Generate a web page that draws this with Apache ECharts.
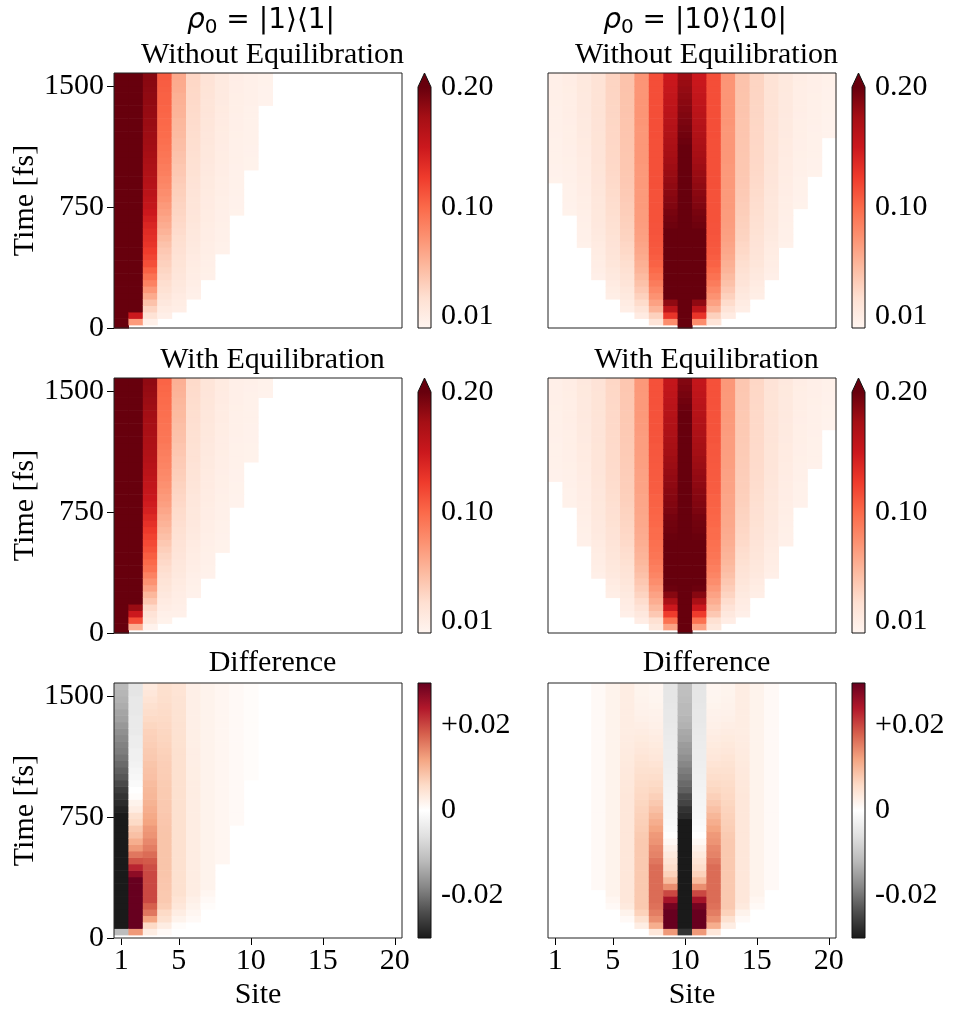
<!DOCTYPE html>
<html><head><meta charset="utf-8">
<script src="https://cdn.jsdelivr.net/npm/echarts@6/dist/echarts.min.js"></script>
<style>html,body{margin:0;padding:0;background:#fff}#c{width:956px;height:1019px}</style>
</head><body><div id="c"></div>
<script>
// ---------- axes / ticks ----------
const sites = [1,2,3,4,5,6,7,8,9,10,11,12,13,14,15,16,17,18,19,20];
const times = [0,40,80,120,160,200,240,280,320,360,400,440,480,520,560,600,640,680,720,760,
  800,840,880,920,960,1000,1040,1080,1120,1160,1200,1240,1280,1320,1360,1400,1440,1480,1520,1560];
const siteTicks = [1,5,10,15,20];
const timeTicks = [0,750,1500];
const popTicks = [0.01,0.10,0.20];
const diffTicks = [-0.02,0,0.02];

// ---------- rho0 = |1><1| : population without equilibration (values from first visible row) ----------
const front1Without = [0,1,1,2,3,5,8,12,18,25,35,40,40,40,40,40,40,40,40,40];
const front1With    = [0,1,1,2,3,6,9,13,20,27,37,40,40,40,40,40,40,40,40,40];
const w1s1 = [1.00,0.96,0.90,0.85,0.80,0.77,0.74,0.72,0.70,0.69,0.68,0.67,0.66,0.66,0.65,0.65,0.64,0.64,0.63,0.63,0.63,0.62,0.62,0.62,0.61,0.61,0.61,0.61,0.60,0.60,0.60,0.60,0.60,0.59,0.59,0.59,0.59,0.59,0.58,0.58];
const w1s2 = [0.07,0.15,0.22,0.25,0.27,0.28,0.29,0.29,0.29,0.29,0.28,0.28,0.28,0.27,0.27,0.27,0.26,0.26,0.26,0.26,0.25,0.25,0.25,0.25,0.25,0.24,0.24,0.24,0.24,0.24,0.24,0.23,0.23,0.23,0.23,0.23,0.23,0.23,0.23];
const w1s3 = [0.006,0.022,0.033,0.045,0.06,0.072,0.085,0.095,0.105,0.115,0.12,0.125,0.13,0.133,0.136,0.14,0.145,0.15,0.155,0.158,0.161,0.164,0.166,0.168,0.17,0.172,0.174,0.176,0.177,0.178,0.179,0.18,0.181,0.182,0.183,0.184,0.185,0.186,0.187];
const w1s4 = [0.007,0.011,0.015,0.019,0.023,0.026,0.029,0.032,0.035,0.038,0.041,0.045,0.05,0.055,0.059,0.063,0.067,0.071,0.075,0.078,0.081,0.084,0.087,0.089,0.091,0.093,0.095,0.097,0.099,0.1,0.101,0.102,0.103,0.104,0.105,0.106,0.107,0.108];
const w1s5 = [0.008,0.01,0.012,0.014,0.016,0.0175,0.019,0.0205,0.022,0.0235,0.025,0.026,0.0275,0.029,0.0305,0.032,0.033,0.0345,0.036,0.0375,0.039,0.041,0.042,0.044,0.045,0.047,0.048,0.05,0.051,0.052,0.054,0.055,0.056,0.057,0.059,0.06,0.061];
const w1s6 = [0.006,0.007,0.008,0.009,0.01,0.011,0.012,0.013,0.014,0.015,0.016,0.017,0.018,0.0185,0.019,0.0195,0.02,0.021,0.022,0.023,0.0235,0.024,0.025,0.0255,0.026,0.0265,0.027,0.0275,0.028,0.0285,0.029,0.0295,0.03,0.0305,0.031];
const w1s7 = [0.006,0.0065,0.007,0.0075,0.008,0.0085,0.009,0.0095,0.01,0.0105,0.011,0.0115,0.012,0.0125,0.013,0.0135,0.014,0.0145,0.015,0.0155,0.016,0.0165,0.017,0.0175,0.018,0.0185,0.019,0.0195,0.02,0.0205,0.021,0.0215];
const w1s8 = [0.005,0.0053,0.0056,0.006,0.0063,0.0066,0.007,0.0073,0.0076,0.008,0.0083,0.0086,0.009,0.0093,0.0096,0.01,0.0103,0.0106,0.011,0.0113,0.0116,0.012,0.0123,0.0126,0.013,0.0133,0.0136,0.014];
const w1s9 = [0.004,0.0042,0.0044,0.0046,0.0048,0.005,0.0052,0.0054,0.0056,0.0058,0.006,0.0062,0.0064,0.0066,0.0068,0.007,0.0072,0.0074,0.0076,0.0078,0.0079,0.008];
const w1s10 = [0.004,0.0041,0.0043,0.0044,0.0046,0.0047,0.0049,0.005,0.0052,0.0053,0.0055,0.0056,0.0058,0.0059,0.006];
const w1s11 = [0.003,0.0033,0.0035,0.0038,0.004];
const pop1Without = [w1s1,w1s2,w1s3,w1s4,w1s5,w1s6,w1s7,w1s8,w1s9,w1s10,w1s11,[],[],[],[],[],[],[],[],[]];

// difference (without - with), values from diff1Start row
const diff1Start = [0,0,0,0,0,0,5,12,18,25,40,40,40,40,40,40,40,40,40,40];
const d1s1 = [0,-0.0115,-0.04,-0.04,-0.04,-0.04,-0.04,-0.04,-0.04,-0.04,-0.04,-0.04,-0.04,-0.04,-0.04,-0.04,-0.04,-0.04,-0.035,-0.031,-0.029,-0.028,-0.027,-0.026,-0.0245,-0.023,-0.022,-0.021,-0.02,-0.019,-0.0185,-0.0178,-0.017,-0.016,-0.015,-0.0145,-0.0135,-0.013,-0.0125,-0.012];
const d1s2 = [0,0.013,0.035,0.07,0.07,0.06,0.05,0.045,0.04,0.032,0.027,0.023,0.019,0.016,0.013,0.011,0.009,0.008,0.006,0.005,0.003,0.002,0.0005,0,-0.001,-0.0015,-0.002,-0.0025,-0.003,-0.003,-0.0035,-0.0035,-0.004,-0.004,-0.004,-0.0045,-0.0045,-0.0045,-0.005,-0.005];
const d1s3 = [0,0.003,0.006,0.012,0.016,0.018,0.02,0.02,0.02,0.02,0.02,0.0195,0.0185,0.017,0.0155,0.0145,0.0135,0.013,0.012,0.0115,0.011,0.0105,0.01,0.0098,0.0095,0.009,0.0088,0.0085,0.008,0.0078,0.0075,0.0072,0.007,0.0065,0.006,0.0055,0.005,0.0045,0.004,0.0035];
const d1s4 = [0,0.001,0.003,0.005,0.006,0.0075,0.008,0.008,0.0082,0.0083,0.0084,0.0085,0.0085,0.0085,0.0085,0.0085,0.0085,0.0084,0.0083,0.0082,0.008,0.008,0.0078,0.0078,0.0077,0.0076,0.0075,0.0074,0.0072,0.007,0.0068,0.0066,0.0064,0.0062,0.006,0.0058,0.0056,0.0054,0.0052,0.005];
const d1s5 = [0,0,0.0005,0.002,0.003,0.004,0.0045,0.005,0.005,0.005,0.005,0.005,0.005,0.005,0.005,0.005,0.005,0.005,0.005,0.005,0.005,0.005,0.005,0.005,0.005,0.005,0.005,0.005,0.005,0.005,0.0049,0.0049,0.0048,0.0048,0.0047,0.0047,0.0046,0.0046,0.0045,0.0045];
const d1s6 = [0,0,0,0.001,0.0015,0.002,0.0025,0.003,0.003,0.003,0.003,0.003,0.003,0.003,0.003,0.003,0.003,0.003,0.003,0.003,0.003,0.003,0.003,0.003,0.003,0.0029,0.0029,0.0028,0.0028,0.0028,0.0027,0.0027,0.0027,0.0026,0.0026,0.0026,0.0026,0.0026,0.0026,0.0026];
const d1s7 = [0.0005,0.001,0.0015,0.002,0.002,0.002,0.002,0.002,0.002,0.002,0.002,0.002,0.002,0.002,0.002,0.002,0.002,0.002,0.002,0.002,0.002,0.002,0.002,0.002,0.002,0.002,0.002,0.002,0.002,0.002,0.002,0.002,0.002,0.002,0.002];
const d1s8 = [0.0015,0.0015,0.0015,0.0015,0.0015,0.0015,0.0015,0.0015,0.0015,0.0015,0.0015,0.0015,0.0015,0.0015,0.0015,0.0015,0.0015,0.0015,0.0015,0.0015,0.0015,0.0015,0.0015,0.0015,0.0015,0.0015,0.0015,0.0015];
const d1s9 = [0.001,0.001,0.001,0.001,0.001,0.001,0.001,0.001,0.001,0.001,0.001,0.001,0.001,0.001,0.001,0.001,0.001,0.001,0.001,0.001,0.001,0.001];
const d1s10 = [0.0005,0.0005,0.0005,0.0005,0.0005,0.0005,0.0005,0.0005,0.0005,0.0005,0.0005,0.0005,0.0005,0.0005,0.0005];
const diff1 = [d1s1,d1s2,d1s3,d1s4,d1s5,d1s6,d1s7,d1s8,d1s9,d1s10,[],[],[],[],[],[],[],[],[],[]];

// ---------- rho0 = |10><10| ----------
const front10Without = [23,18,13,8,5,3,2,1,1,0,1,1,2,3,5,8,13,19,24,30];
const front10With    = [24,20,14,9,6,3,2,1,1,0,1,1,2,3,6,9,14,20,26,32];
const w10s1 = [0.004,0.0042,0.0044,0.0046,0.0048,0.005,0.0052,0.0054,0.0056,0.0058,0.006,0.0062,0.0064,0.0066,0.0068,0.007,0.007];
const w10s2 = [0.004,0.0043,0.0046,0.0049,0.0052,0.0055,0.0058,0.0061,0.0064,0.0067,0.007,0.0072,0.0074,0.0076,0.0078,0.008,0.0082,0.0084,0.0086,0.0088,0.009,0.009];
const w10s3 = [0.005,0.0055,0.006,0.0065,0.007,0.0075,0.008,0.0085,0.009,0.0095,0.01,0.0104,0.0108,0.0112,0.0116,0.012,0.0124,0.0128,0.0131,0.0134,0.0137,0.014,0.0142,0.0144,0.0146,0.0148,0.015];
const w10s4 = [0.007,0.008,0.009,0.01,0.011,0.012,0.013,0.014,0.015,0.0155,0.016,0.0165,0.017,0.0175,0.018,0.0185,0.019,0.0195,0.02,0.0202,0.0204,0.0206,0.0208,0.021,0.0212,0.0214,0.0215,0.0216,0.0217,0.0218,0.0219,0.022];
const w10s5 = [0.008,0.01,0.012,0.014,0.016,0.018,0.019,0.02,0.021,0.022,0.023,0.024,0.025,0.026,0.0265,0.027,0.028,0.0285,0.029,0.0295,0.03,0.0302,0.0304,0.0306,0.0308,0.031,0.0312,0.0314,0.0316,0.0318,0.032,0.0322,0.0324,0.0326,0.033];
const w10s6 = [0.008,0.011,0.014,0.017,0.02,0.022,0.024,0.026,0.028,0.03,0.031,0.033,0.034,0.035,0.036,0.037,0.038,0.039,0.04,0.0405,0.041,0.0413,0.0416,0.0419,0.0422,0.0425,0.0428,0.043,0.0432,0.0434,0.0436,0.0438,0.044,0.0442,0.0444,0.0446,0.0448];
const w10s7 = [0.012,0.02,0.028,0.035,0.041,0.046,0.05,0.054,0.057,0.06,0.062,0.064,0.066,0.067,0.068,0.069,0.069,0.07,0.07,0.07,0.071,0.071,0.071,0.071,0.072,0.072,0.072,0.072,0.072,0.072,0.073,0.073,0.073,0.073,0.073,0.073,0.073,0.073];
const w10s8 = [0.02,0.035,0.055,0.066,0.075,0.082,0.089,0.095,0.1,0.104,0.107,0.109,0.11,0.111,0.112,0.112,0.113,0.113,0.113,0.113,0.113,0.114,0.114,0.114,0.114,0.114,0.114,0.114,0.114,0.115,0.115,0.115,0.115,0.115,0.115,0.115,0.115,0.115,0.115];
const w10s9 = [0.078,0.13,0.161,0.184,0.201,0.212,0.218,0.218,0.215,0.212,0.21,0.207,0.205,0.203,0.2,0.197,0.195,0.193,0.19,0.188,0.186,0.184,0.182,0.18,0.178,0.176,0.174,0.172,0.17,0.168,0.166,0.164,0.162,0.16,0.158,0.156,0.154,0.152,0.15];
const w10s10 = [1.0,0.9,0.75,0.6,0.5,0.45,0.4,0.37,0.34,0.32,0.3,0.29,0.28,0.27,0.26,0.255,0.25,0.245,0.24,0.235,0.23,0.226,0.222,0.218,0.214,0.21,0.207,0.204,0.201,0.198,0.196,0.194,0.192,0.19,0.188,0.186,0.184,0.182,0.18,0.178];
const w10s18 = [0.004,0.0043,0.0046,0.0049,0.0052,0.0055,0.0058,0.0061,0.0064,0.0067,0.007,0.0072,0.0074,0.0076,0.0078,0.008,0.0082,0.0084,0.0086,0.0088,0.009];
const w10s19 = [0.004,0.0042,0.0044,0.0046,0.0048,0.005,0.0052,0.0054,0.0056,0.0058,0.006,0.0062,0.0064,0.0066,0.0068,0.007];
const w10s20 = [0.003,0.0032,0.0034,0.0036,0.0038,0.004,0.0042,0.0044,0.0046,0.0048];
const pop10Without = [w10s1,w10s2,w10s3,w10s4,w10s5,w10s6,w10s7,w10s8,w10s9,w10s10,
  w10s9,w10s8,w10s7,w10s6,w10s5,w10s4,w10s3,w10s18,w10s19,w10s20];

const diff10Start = [40,40,40,8,5,3,0,0,0,0,0,0,0,3,5,8,40,40,40,40];
const d10s4 = [0.001,0.001,0.001,0.001,0.001,0.001,0.001,0.001,0.001,0.001,0.001,0.001,0.001,0.001,0.001,0.001,0.001,0.001,0.001,0.001,0.001,0.001,0.001,0.001,0.001,0.001,0.001,0.001,0.001,0.001,0.001,0.001];
const d10s5 = [0.001,0.0015,0.002,0.002,0.002,0.002,0.002,0.002,0.002,0.002,0.002,0.002,0.002,0.002,0.002,0.002,0.002,0.002,0.002,0.002,0.002,0.002,0.002,0.002,0.002,0.002,0.002,0.002,0.002,0.002,0.002,0.002,0.002,0.002,0.002];
const d10s6 = [0.001,0.002,0.0035,0.004,0.004,0.004,0.004,0.004,0.004,0.004,0.004,0.004,0.004,0.004,0.004,0.004,0.004,0.004,0.004,0.004,0.0039,0.0038,0.0037,0.0036,0.0035,0.0034,0.0033,0.0032,0.0031,0.003,0.003,0.003,0.003,0.003,0.003,0.003,0.003];
const d10s7 = [0,0,0.003,0.005,0.007,0.008,0.008,0.008,0.008,0.008,0.008,0.008,0.008,0.008,0.008,0.008,0.0078,0.0075,0.0072,0.007,0.0068,0.0065,0.0062,0.006,0.0057,0.0054,0.005,0.0047,0.0044,0.004,0.0037,0.0034,0.0031,0.0028,0.0025,0.0023,0.0021,0.002,0.0019,0.0018];
const d10s8 = [0,0.004,0.011,0.014,0.0155,0.0165,0.017,0.017,0.017,0.017,0.017,0.017,0.016,0.015,0.0145,0.0135,0.013,0.012,0.011,0.01,0.009,0.008,0.0072,0.0065,0.006,0.0055,0.005,0.0045,0.004,0.0037,0.0034,0.0031,0.0028,0.0025,0.0023,0.0021,0.0019,0.0017,0.0016,0.0015];
const d10s9 = [0,0.013,0.035,0.036,0.034,0.029,0.025,0.02,0.014,0.0095,0.007,0.0055,0.0045,0.0035,0.0025,0.0012,0.0002,-0.0008,-0.0012,-0.0015,-0.0017,-0.0019,-0.0021,-0.0023,-0.0026,-0.0029,-0.0031,-0.0033,-0.0034,-0.0035,-0.0037,-0.0039,-0.004,-0.0042,-0.0044,-0.0045,-0.0046,-0.0048,-0.0049,-0.005];
const d10s10 = [0,-0.027,-0.04,-0.04,-0.04,-0.04,-0.04,-0.04,-0.04,-0.04,-0.04,-0.04,-0.04,-0.04,-0.04,-0.04,-0.04,-0.04,-0.04,-0.028,-0.027,-0.025,-0.024,-0.022,-0.021,-0.02,-0.019,-0.018,-0.017,-0.016,-0.0155,-0.0145,-0.014,-0.013,-0.0125,-0.012,-0.012,-0.0115,-0.0112,-0.011];
const diff10 = [[],[],[],d10s4,d10s5,d10s6,d10s7,d10s8,d10s9,d10s10,
  d10s9,d10s8,d10s7,d10s6,d10s5,d10s4,[],[],[],[]];

// ---------- colormaps ----------
const REDS = ['#fff5f0','#fee0d2','#fcbba1','#fc9272','#fb6a4a','#ef3b2c','#cb181d','#a50f15','#67000d'];
const RDGY_R = ['#1a1a1a','#4d4d4d','#878787','#bababa','#e0e0e0','#ffffff','#fddbc7','#f4a582','#d6604d','#b2182b','#67001f'];
const POP_RANGE = [0, 0.2];
const DIFF_RANGE = [-0.03, 0.03];

// ---------- build cell tables ----------
function valueAt(start, vals, i, r) {
  const k = r - start[i];
  return (k >= 0 && k < vals[i].length) ? vals[i][k] : 0;
}
function clamp(v, lo, hi) { return Math.min(hi, Math.max(lo, v)); }
function popCells(front, start, vals, dStart, dVals) {
  const out = [];
  for (let i = 0; i < sites.length; i++) {
    for (let r = front[i]; r < times.length; r++) {
      let v = valueAt(start, vals, i, r);
      if (dVals) v -= valueAt(dStart, dVals, i, r);
      out.push([sites[i], times[r], clamp(v, POP_RANGE[0], POP_RANGE[1])]);
    }
  }
  return out;
}
function diffCells(start, vals) {
  const out = [];
  for (let i = 0; i < sites.length; i++) {
    for (let k = 0; k < vals[i].length; k++) {
      const r = start[i] + k;
      out.push([sites[i], times[r], clamp(vals[i][k], DIFF_RANGE[0], DIFF_RANGE[1])]);
    }
  }
  return out;
}

// ---------- layout ----------
const COLS = [114, 548], ROWS = [73, 378, 683], PW = 288, PH = 255;
const CB_GAP = 16, CB_W = 13, EXT = 14;
const SERIF = 'Liberation Serif';
const HALF = (times[1] - times[0]) / 2;

const panels = [
  {row:0, col:0, kind:'pop',  data: popCells(front1Without, front1Without, pop1Without)},
  {row:0, col:1, kind:'pop',  data: popCells(front10Without, front10Without, pop10Without)},
  {row:1, col:0, kind:'pop',  data: popCells(front1With, front1Without, pop1Without, diff1Start, diff1)},
  {row:1, col:1, kind:'pop',  data: popCells(front10With, front10Without, pop10Without, diff10Start, diff10)},
  {row:2, col:0, kind:'diff', data: diffCells(diff1Start, diff1)},
  {row:2, col:1, kind:'diff', data: diffCells(diff10Start, diff10)}
];

function renderCell(params, api) {
  const x = api.value(0), t = api.value(1);
  const p0 = api.coord([x - 0.5, Math.max(t - HALF, 0)]);
  const p1 = api.coord([x + 0.5, t + HALF]);
  return {type:'rect', shape:{x:p0[0], y:p1[1], width:p1[0]-p0[0]+0.6, height:p0[1]-p1[1]+0.6},
    style:{fill: api.visual('color')}};
}
function makeBarRenderer(cmap, extend) {
  return function (params, api) {
    const lo = api.coord([0, api.value(1)]);
    const hi = api.coord([1, api.value(2)]);
    const x0 = lo[0], x1 = hi[0], yb = lo[1], yt = hi[1];
    const stops = cmap.map((c, i) => ({offset: i / (cmap.length - 1), color: c}));
    const children = [{type:'rect', shape:{x:x0, y:yt, width:x1-x0, height:yb-yt},
      style:{fill: new echarts.graphic.LinearGradient(0, 1, 0, 0, stops)}}];
    let outline = [[x0,yb],[x0,yt],[x1,yt],[x1,yb]];
    if (extend) {
      const tip = [(x0 + x1) / 2, yt - EXT];
      children.push({type:'polygon', shape:{points:[[x0,yt], tip, [x1,yt]]}, style:{fill: cmap[cmap.length-1]}});
      outline = [[x0,yb],[x0,yt],tip,[x1,yt],[x1,yb]];
    }
    children.push({type:'polygon', shape:{points:outline}, style:{fill:'none', stroke:'#111', lineWidth:1}});
    return {type:'group', children};
  };
}

const grids = [], xAxes = [], yAxes = [], series = [];
const labelStyle = {fontFamily: SERIF, fontSize: 30, color: '#000'};
const plain = v => String(v);
panels.forEach((p, g) => {
  grids.push({left: COLS[p.col], top: ROWS[p.row], width: PW, height: PH, show: true, z: 10,
    backgroundColor: 'rgba(0,0,0,0)', borderColor: '#222', borderWidth: 1});
  const bottom = p.row === 2, left = p.col === 0;
  xAxes.push({type:'value', gridIndex:g, min:0.5, max:20.5,
    axisLine:{show:false}, splitLine:{show:false},
    axisTick:{show:bottom, customValues: siteTicks, length:7, lineStyle:{color:'#000', width:1}},
    axisLabel:Object.assign({show:bottom, customValues: siteTicks, margin:8, formatter: plain}, labelStyle)});
  yAxes.push({type:'value', gridIndex:g, min:0, max:1580,
    axisLine:{show:false}, splitLine:{show:false},
    axisTick:{show:left, customValues: timeTicks, length:7, lineStyle:{color:'#000', width:1}},
    axisLabel:Object.assign({show:left, customValues: timeTicks, margin:10, formatter: plain}, labelStyle)});
  series.push({type:'custom', name:'panel'+g, xAxisIndex:g, yAxisIndex:g,
    dimensions:['site','time','value'], encode:{x:0, y:1},
    renderItem: renderCell, data: p.data, silent: true});
});
panels.forEach((p, g) => {
  const gi = 6 + g;
  const isPop = p.kind === 'pop';
  const ext = isPop ? EXT : 0;
  grids.push({left: COLS[p.col] + PW + CB_GAP, top: ROWS[p.row] + ext, width: CB_W, height: PH - ext});
  const range = isPop ? POP_RANGE : DIFF_RANGE;
  const ticks = isPop ? popTicks : diffTicks;
  xAxes.push({type:'value', gridIndex:gi, min:0, max:1, show:false});
  yAxes.push({type:'value', gridIndex:gi, position:'right', min:range[0], max:range[1],
    axisLine:{show:false}, splitLine:{show:false},
    axisTick:{show:true, customValues: ticks, length:5, lineStyle:{color:'#000', width:1}},
    axisLabel:Object.assign({customValues: ticks, margin:10,
      formatter: isPop ? (v => v.toFixed(2)) : (v => v > 0 ? '+' + v.toFixed(2) : (v < 0 ? '-' + Math.abs(v).toFixed(2) : '0'))}, labelStyle)});
  series.push({type:'custom', xAxisIndex:gi, yAxisIndex:gi, silent:true,
    dimensions:['x','lo','hi'], encode:{x:0, y:[1,2]},
    renderItem: makeBarRenderer(isPop ? REDS : RDGY_R, isPop),
    data: [[0, range[0], range[1]]]});
});

// ---------- texts ----------
const subtitles = ['Without Equilibration', 'With Equilibration', 'Difference'];
const graphics = [];
function txt(x, y, text, extra) {
  return {type:'text', x, y, z:100, silent:true,
    style:Object.assign({text, fontFamily:SERIF, fontSize:30, fill:'#000',
      align:'center', verticalAlign:'middle', textAlign:'center', textVerticalAlign:'middle'}, extra || {})};
}
const subCenters = [(COLS[0] + COLS[0] + PW + CB_GAP + CB_W) / 2, (COLS[1] + COLS[1] + PW + CB_GAP + CB_W) / 2];
const subY = [55, 360, 663];
ROWS.forEach((ry, r) => {
  subCenters.forEach(cx => graphics.push(txt(cx, subY[r], subtitles[r])));
  const t = txt(25, ry + PH / 2, 'Time [fs]');
  t.rotation = Math.PI / 2;
  graphics.push(t);
});
COLS.forEach(cx => graphics.push(txt(cx + PW / 2, 995, 'Site')));
const rhoRich = {
  i: {fontFamily:'DejaVu Sans', fontSize:28, fontStyle:'italic', lineHeight:34, verticalAlign:'middle'},
  s: {fontFamily:'DejaVu Sans', fontSize:20, lineHeight:20, verticalAlign:'bottom'},
  n: {fontFamily:'DejaVu Sans', fontSize:28, lineHeight:34, verticalAlign:'middle'}
};
graphics.push(txt(COLS[0] + PW / 2 + 3, 21, '{i|ρ}{s|0}{n| = |1⟩⟨1|}', {rich: rhoRich, fontFamily:'DejaVu Sans', fontSize:28}));
graphics.push(txt(COLS[1] + PW / 2 + 3, 21, '{i|ρ}{s|0}{n| = |10⟩⟨10|}', {rich: rhoRich, fontFamily:'DejaVu Sans', fontSize:28}));

const chart = echarts.init(document.getElementById('c'), null, {renderer:'canvas'});
chart.setOption({
  animation: false,
  backgroundColor: '#ffffff',
  textStyle: {fontFamily: SERIF},
  grid: grids, xAxis: xAxes, yAxis: yAxes, series,
  visualMap: [
    {type:'continuous', show:false, seriesIndex:[0,1,2,3], dimension:2,
      min:POP_RANGE[0], max:POP_RANGE[1], inRange:{color:REDS}},
    {type:'continuous', show:false, seriesIndex:[4,5], dimension:2,
      min:DIFF_RANGE[0], max:DIFF_RANGE[1], inRange:{color:RDGY_R}}
  ],
  graphic: graphics
});
</script></body></html>
